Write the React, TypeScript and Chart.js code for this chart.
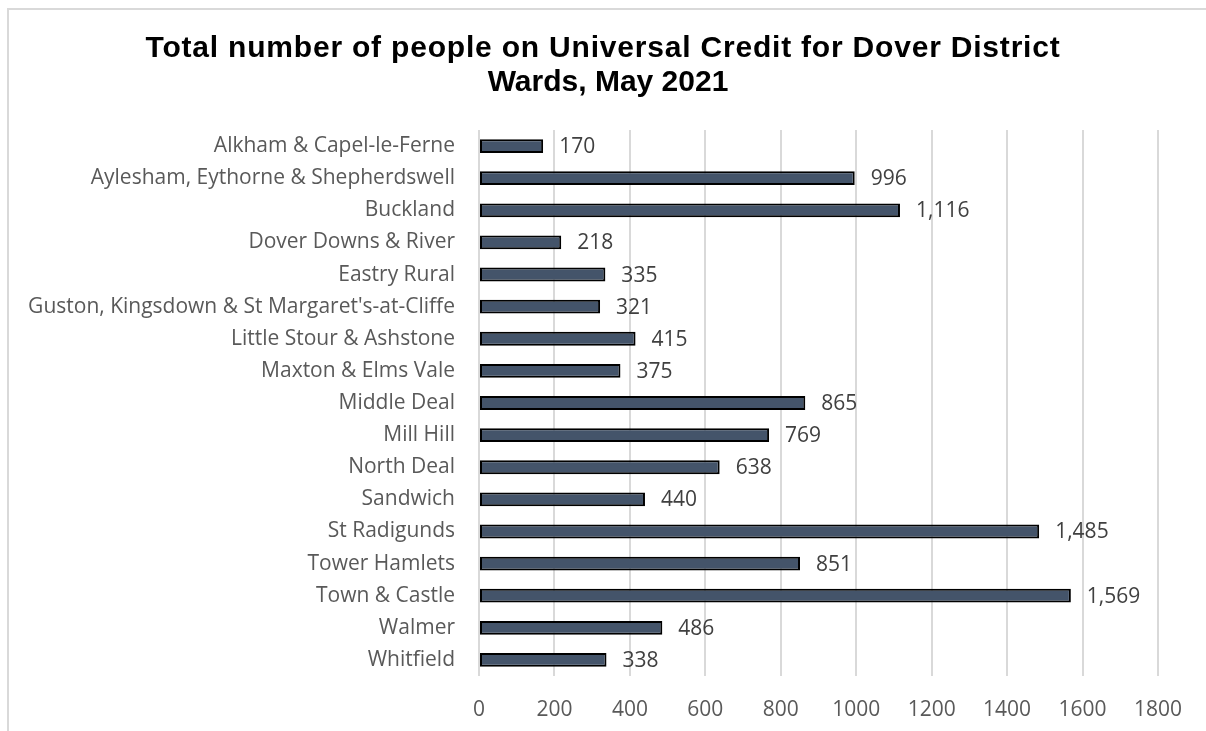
import React, { useEffect, useRef } from "react";
import { Chart, registerables } from "chart.js";

Chart.register(...registerables);

const titleLines = [
  "Total number of people on Universal Credit for Dover District",
  "Wards, May 2021",
];

const wards = [
  "Alkham & Capel-le-Ferne",
  "Aylesham, Eythorne & Shepherdswell",
  "Buckland",
  "Dover Downs & River",
  "Eastry Rural",
  "Guston, Kingsdown & St Margaret's-at-Cliffe",
  "Little Stour & Ashstone",
  "Maxton & Elms Vale",
  "Middle Deal",
  "Mill Hill",
  "North Deal",
  "Sandwich",
  "St Radigunds",
  "Tower Hamlets",
  "Town & Castle",
  "Walmer",
  "Whitfield",
];

const people = [170, 996, 1116, 218, 335, 321, 415, 375, 865, 769, 638, 440, 1485, 851, 1569, 486, 338];

const xTicks = [0, 200, 400, 600, 800, 1000, 1200, 1400, 1600, 1800];

const W = 1206;
const H = 731;
const LABEL_FONT = "'Open Sans', 'Noto Sans', sans-serif";

const framePlugin = {
  id: "frame",
  beforeDraw(chart: any) {
    const ctx = chart.ctx;
    ctx.save();
    ctx.fillStyle = "#ffffff";
    ctx.fillRect(0, 0, chart.width, chart.height);
    ctx.fillStyle = "#d9d9d9";
    ctx.fillRect(7, 8, 2, chart.height);
    ctx.fillRect(7, 8, chart.width, 2);
    ctx.restore();
  },
  afterDraw(chart: any) {
    const ctx = chart.ctx;
    ctx.save();
    ctx.fillStyle = "#000000";
    ctx.textAlign = "center";
    ctx.textBaseline = "alphabetic";
    ctx.font = "bold 30px 'Liberation Sans', Arial, sans-serif";
    try { (ctx as any).letterSpacing = "0.8px"; } catch (e) {}
    ctx.fillText(titleLines[0], 603, 57);
    try { (ctx as any).letterSpacing = "0px"; } catch (e) {}
    ctx.fillText(titleLines[1], 608, 91);
    ctx.restore();
  },
};

const valueLabelPlugin = {
  id: "valueLabels",
  afterDatasetsDraw(chart: any) {
    const ctx = chart.ctx;
    const meta = chart.getDatasetMeta(0);
    const data = chart.data.datasets[0].data as number[];
    ctx.save();
    ctx.fillStyle = "#404040";
    ctx.font = `21px ${LABEL_FONT}`;
    ctx.textAlign = "left";
    ctx.textBaseline = "middle";
    meta.data.forEach((bar: any, i: number) => {
      ctx.fillText(data[i].toLocaleString("en-US"), bar.x + 16, bar.y + 1);
    });
    ctx.restore();
  },
};

export default function App() {
  const ref = useRef<HTMLCanvasElement>(null);

  useEffect(() => {
    if (!ref.current) return;
    const chart = new Chart(ref.current, {
      type: "bar",
      data: {
        labels: wards,
        datasets: [
          {
            data: people,
            backgroundColor: "#44546A",
            borderColor: "#000000",
            borderWidth: 2,
            borderSkipped: false,
            barPercentage: 0.43,
            categoryPercentage: 1,
          },
        ],
      },
      options: {
        indexAxis: "y",
        responsive: false,
        animation: false,
        layout: { padding: { top: 130, right: 48, left: 0, bottom: 0 } },
        plugins: {
          legend: { display: false },
          title: { display: false },
          tooltip: { enabled: false },
        },
        scales: {
          x: {
            min: 0,
            max: 1800,
            afterBuildTicks: (s: any) => {
              s.ticks = xTicks.map((v) => ({ value: v }));
            },
            afterFit: (s: any) => {
              s.height = H - 676;
            },
            grid: { color: "#d9d9d9", lineWidth: 2, drawTicks: false },
            border: { display: false },
            ticks: {
              color: "#595959",
              font: { size: 21, family: LABEL_FONT },
              padding: 21,
              callback: (v: any) => String(v),
            },
          },
          y: {
            afterFit: (s: any) => {
              s.width = 479;
            },
            grid: { display: false, drawTicks: false },
            border: { display: false },
            ticks: {
              color: "#595959",
              font: { size: 21, family: LABEL_FONT },
              padding: 24,
              autoSkip: false,
            },
          },
        },
      },
      plugins: [framePlugin, valueLabelPlugin],
    });
    return () => chart.destroy();
  }, []);

  return (
    <div style={{ position: "fixed", left: 0, top: 0, width: W, height: H, overflow: "hidden", background: "#fff" }}>
      <canvas ref={ref} width={W} height={H} style={{ display: "block", width: W, height: H }} />
    </div>
  );
}
